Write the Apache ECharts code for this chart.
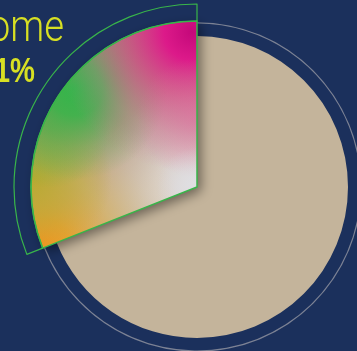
<!DOCTYPE html>
<html>
<head>
<meta charset="utf-8">
<script src="https://cdn.jsdelivr.net/npm/echarts@6/dist/echarts.min.js"></script>
<style>
html,body{margin:0;padding:0;background:#1b305c;}
#c{width:357px;height:351px;}
</style>
</head>
<body>
<div id="c"></div>
<script>
// ---- data ----
const categories = ['Other', 'Income'];
const values = [69, 31];
const highlight = 'Income';
const valueSuffix = '%';

// ---- styles ----
const BG = '#1b305c';
const BEIGE = '#c4b49b';
const GREEN = '#39b54a';
const GREY = '#7c8294';
const TEXT = '#d7df23';
const C = [197, 187];

const chart = echarts.init(document.getElementById('c'), null, {renderer: 'canvas'});

function rad(x, y, r, stops) {
  return {type: 'radial', x: x, y: y, r: r, global: true,
    colorStops: stops.map(s => ({offset: s[0], color: s[1]}))};
}

const NONE = {color: 'rgba(0,0,0,0)', borderWidth: 0};

function layer(radius, hiStyle, otherStyle, z) {
  return {
    type: 'pie', center: C, radius: radius, startAngle: 90, clockwise: true,
    silent: true, animation: false, z: z,
    label: {show: false}, labelLine: {show: false},
    emphasis: {disabled: true},
    data: categories.map((c, i) => ({
      name: c, value: values[i],
      itemStyle: Object.assign({borderWidth: 0}, c === highlight ? hiStyle : otherStyle)
    }))
  };
}

const hiIdx = categories.indexOf(highlight);

const series = [
  // grey outline circle
  layer([163.5, 164.7], {color: GREY}, {color: GREY}, 1),
  // beige pie
  layer([0, 151], {color: BEIGE}, {color: BEIGE}, 2),
  // base of highlighted sector with shadow
  layer([0, 166], {
    color: rad(197, 187, 166, [[0, '#e2e1e4'], [0.25, '#d8cdc6'], [0.6, '#b4998b'], [1, '#9a826e']]),
    shadowBlur: 12, shadowColor: 'rgba(0,0,0,0.45)', shadowOffsetX: 4, shadowOffsetY: 4
  }, NONE, 3),
  // orange
  layer([0, 166], {color: rad(40, 248, 150, [[0, 'rgba(248,146,28,1)'], [0.2, 'rgba(243,162,40,0.9)'], [0.5, 'rgba(228,195,100,0.6)'], [0.8, 'rgba(225,210,150,0.2)'], [1, 'rgba(225,210,150,0)']])}, NONE, 4),
  // olive
  layer([0, 166], {color: rad(32, 178, 80, [[0, 'rgba(185,170,45,0.95)'], [0.5, 'rgba(182,170,55,0.55)'], [1, 'rgba(182,170,55,0)']])}, NONE, 5),
  // green (lower, softer)
  layer([0, 166], {color: rad(50, 128, 60, [[0, 'rgba(80,178,72,0.6)'], [1, 'rgba(80,178,72,0)']])}, NONE, 6),
  // green
  layer([0, 166], {color: rad(75, 88, 92, [[0, 'rgba(50,182,74,1)'], [0.3, 'rgba(58,180,74,0.88)'], [0.65, 'rgba(90,170,80,0.38)'], [1, 'rgba(90,170,80,0)']])}, NONE, 7),
  // magenta
  layer([0, 166], {color: rad(192, 32, 140, [[0, 'rgba(196,8,122,1)'], [0.2, 'rgba(222,22,138,0.97)'], [0.45, 'rgba(220,70,140,0.7)'], [0.75, 'rgba(210,120,155,0.3)'], [1, 'rgba(210,120,155,0)']])}, NONE, 8),
  // pink down the right edge
  layer([0, 166], {color: rad(197, 118, 60, [[0, 'rgba(225,110,160,0.55)'], [1, 'rgba(225,110,160,0)']])}, NONE, 9),
  // light centre
  layer([0, 166], {color: rad(197, 187, 40, [[0, 'rgba(222,222,226,0.85)'], [1, 'rgba(222,222,226,0)']])}, NONE, 10),
  // green border of sector
  layer([0, 166], {color: 'rgba(0,0,0,0)', borderColor: GREEN, borderWidth: 1.5}, NONE, 11),
  // outer ring outline
  layer([166, 183], {color: 'rgba(0,0,0,0)', borderColor: GREEN, borderWidth: 1.2}, NONE, 12)
];

chart.setOption({
  backgroundColor: BG,
  animation: false,
  series: series,
  graphic: [
    {type: 'text', x: 64, y: 52, z: 20, silent: true, scaleX: 0.87,
      style: {text: categories[hiIdx], fill: TEXT, font: '300 44px Roboto, "Open Sans", sans-serif',
        textAlign: 'right', textVerticalAlign: 'bottom'}},
    {type: 'text', x: 35, y: 90, z: 20, silent: true, scaleX: 0.8,
      style: {text: values[hiIdx] + valueSuffix, fill: TEXT, font: 'bold 35px "Liberation Sans", Arial, sans-serif',
        textAlign: 'right', textVerticalAlign: 'bottom'}}
  ]
});
</script>
</body>
</html>
